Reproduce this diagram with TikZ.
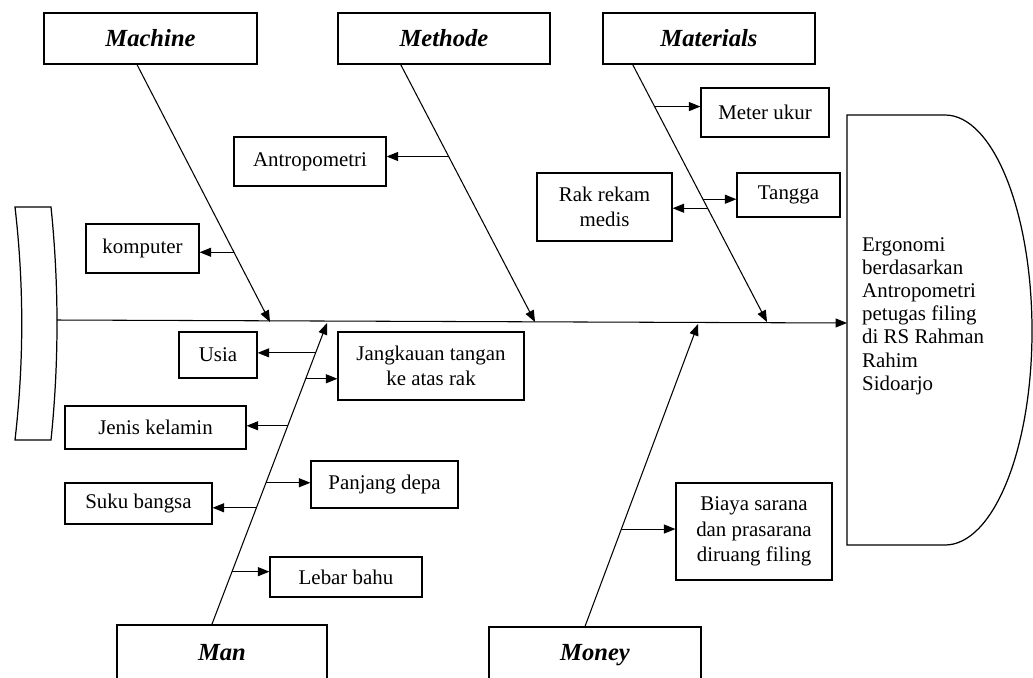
\documentclass[tikz,border=0pt]{standalone}
\usepackage{fontspec}
\setmainfont{Liberation Serif}
\usetikzlibrary{arrows.meta,calc}

\begin{document}
\begin{tikzpicture}[x=0.02cm,y=-0.02cm,>={Triangle[length=2.3mm,width=1.8mm]}]
\tikzset{every node/.style={font=\fontsize{11.9}{14.5}\selectfont}}
\tikzset{catbox/.style={draw,line width=0.7pt,minimum height=1.02cm,font=\fontsize{14}{16}\selectfont\bfseries\itshape}}
\tikzset{causebox/.style={draw,line width=0.7pt,align=center,inner sep=2pt}}
\tikzset{bone/.style={->,line width=0.6pt}}

\useasboundingbox (0,0) rectangle (1033,677);
\clip (0,0) rectangle (1033,677);

% Tail and head of the fish
\draw[line width=0.7pt] (15,207) -- (51,207) .. controls (59,285) and (59,362) .. (51,440) -- (15,440) .. controls (24,362) and (24,285) .. (15,207) -- cycle;
\coordinate (tail) at (57,320);
\draw[line width=0.7pt] (847,115) -- (945,115) .. controls (993,115) and (1032,212) .. (1032,331) .. controls (1032,450) and (993,545) .. (945,545) -- (847,545) -- cycle;
\coordinate (headin) at (847,323);
\node[anchor=west,align=left,font=\fontsize{11.9}{13.2}\selectfont] (effect) at (856,316) {Ergonomi\\berdasarkan\\Antropometri\\petugas filing\\di RS Rahman\\Rahim\\Sidoarjo};

% Spine
\draw[bone] (tail) -- (headin);

% Categories
\node[catbox,minimum width=4.26cm] (machine) at (150.5,38.5) {Machine};
\node[catbox,minimum width=4.24cm] (methode) at (444,38.5) {Methode};
\node[catbox,minimum width=4.24cm] (materials) at (709,38.5) {Materials};
\node[catbox,minimum width=4.2cm,minimum height=1.12cm] (man) at (222,653) {Man};
\node[catbox,minimum width=4.24cm,minimum height=1.12cm] (money) at (595,655) {Money};

% Where the bones meet the spine
\coordinate (machinetip) at (270,322);
\coordinate (methodetip) at (535,322);
\coordinate (materialstip) at (767,322);
\coordinate (mantip) at (327,323);
\coordinate (moneytip) at (698,324);

% Bones
\draw[bone] ($(machine.south west)!0.437!(machine.south east)$) -- (machinetip) coordinate[pos=0.729] (mc1);
\draw[bone] ($(methode.south west)!0.297!(methode.south east)$) -- (methodetip) coordinate[pos=0.357] (me1);
\draw[bone] ($(materials.south west)!0.142!(materials.south east)$) -- (materialstip)
  coordinate[pos=0.163] (ma1) coordinate[pos=0.523] (ma2) coordinate[pos=0.558] (ma3);
\draw[bone] ($(man.north west)!0.452!(man.north east)$) -- (mantip)
  coordinate[pos=0.175] (mn1) coordinate[pos=0.387] (mn2) coordinate[pos=0.470] (mn3)
  coordinate[pos=0.659] (mn4) coordinate[pos=0.815] (mn5) coordinate[pos=0.901] (mn6);
\draw[bone] ($(money.north west)!0.453!(money.north east)$) -- (moneytip) coordinate[pos=0.322] (mo1);

% Causes
\node[causebox,minimum width=2.26cm,minimum height=0.98cm] (komputer) at (142.5,248.5) {komputer};
\node[causebox,minimum width=3.04cm,minimum height=0.98cm] (antropometri) at (310,161.5) {Antropometri};
\node[causebox,minimum width=2.56cm,minimum height=0.98cm] (meter) at (765,112.5) {Meter ukur};
\node[causebox,minimum width=2.06cm,minimum height=0.88cm] (tangga) at (788.5,195) {Tangga};
\node[causebox,minimum width=2.7cm,minimum height=1.36cm] (rak) at (604.5,207) {Rak rekam\\medis};
\node[causebox,minimum width=1.56cm,minimum height=0.92cm] (usia) at (218,355) {Usia};
\node[causebox,minimum width=3.72cm,minimum height=1.36cm] (jangkauan) at (431,366) {Jangkauan tangan\\ke atas rak};
\node[causebox,minimum width=3.62cm,minimum height=0.86cm] (jenis) at (155.5,427.5) {Jenis kelamin};
\node[causebox,minimum width=2.94cm,minimum height=0.94cm] (panjang) at (384.5,484.5) {Panjang depa};
\node[causebox,minimum width=2.94cm,minimum height=0.82cm] (suku) at (138.5,503.5) {Suku bangsa};
\node[causebox,minimum width=3.04cm,minimum height=0.8cm] (lebar) at (346,577) {Lebar bahu};
\node[causebox,minimum width=3.12cm,minimum height=1.94cm] (biaya) at (754,531.5) {Biaya sarana\\dan prasarana\\diruang filing};

% Arrows from the bones
\draw[bone] (mc1) -- (komputer.east |- mc1);
\draw[bone] (me1) -- (antropometri.east |- me1);
\draw[bone] (ma1) -- (meter.west |- ma1);
\draw[bone] (ma2) -- (tangga.west |- ma2);
\draw[bone] (ma3) -- (rak.east |- ma3);
\draw[bone] (mn6) -- (usia.east |- mn6);
\draw[bone] (mn5) -- (jangkauan.west |- mn5);
\draw[bone] (mn4) -- (jenis.east |- mn4);
\draw[bone] (mn3) -- (panjang.west |- mn3);
\draw[bone] (mn2) -- (suku.east |- mn2);
\draw[bone] (mn1) -- (lebar.west |- mn1);
\draw[bone] (mo1) -- (biaya.west |- mo1);

\end{tikzpicture}
\end{document}
